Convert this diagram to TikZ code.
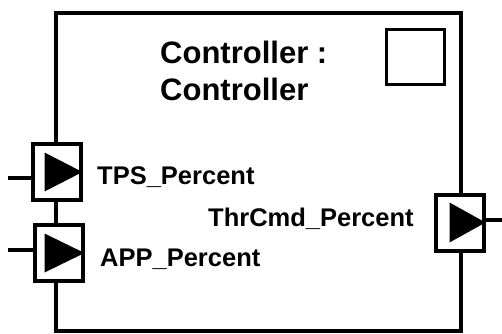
\documentclass[tikz,border=0pt]{standalone}
\usepackage{fontspec}
\setmainfont{Liberation Sans}
\usetikzlibrary{calc, positioning}

\begin{document}
\begin{tikzpicture}[x=1pt, y=-1pt,
  port/.style={draw, fill=white, line width=4pt, minimum width=48pt, minimum height=56pt, inner sep=0pt},
  arr/.style={fill=black, line join=round},
  lbl/.style={inner sep=0pt, anchor=base west, font=\fontsize{25.5}{30}\selectfont\bfseries},
  wire/.style={line width=4pt}]
\useasboundingbox (0,0) rectangle (502,333);
\draw[line width=4pt] (56,13) rectangle (461,331);
\draw[line width=3pt] (386.5,29.5) rectangle (444.5,84.5);
\node[inner sep=0pt, anchor=base west, align=left, font=\fontsize{31}{37}\selectfont\bfseries] (title) at (160,100) {Controller :\\Controller};
\node[port] (tps) at (56.5,172) {};
\node[port] (app) at (58.5,253) {};
\node[port] (thr) at (459.5,222.5) {};
\coordinate (tpsin) at (8,178);
\coordinate (appin) at (8,250);
\coordinate (throut) at (502,220);
\draw[wire] (tpsin) -- (tpsin -| tps.west);
\draw[wire] (appin) -- (appin -| app.west);
\draw[wire] (thr.east |- throut) -- (throut);
\fill[arr] (tps.east) -- ++(-38,-19.5) -- ++(0,39) -- cycle;
\fill[arr] (app.east) -- ++(-40,-19.5) -- ++(0,39) -- cycle;
\fill[arr] (thr.east) -- ++(-36,-20) -- ++(0,40) -- cycle;
\node[lbl] (tpslbl) at (97,184) {TPS\_Percent};
\node[lbl] (applbl) at (100,266) {APP\_Percent};
\node[lbl] (thrlbl) at (208,226) {ThrCmd\_Percent};
\end{tikzpicture}
\end{document}
